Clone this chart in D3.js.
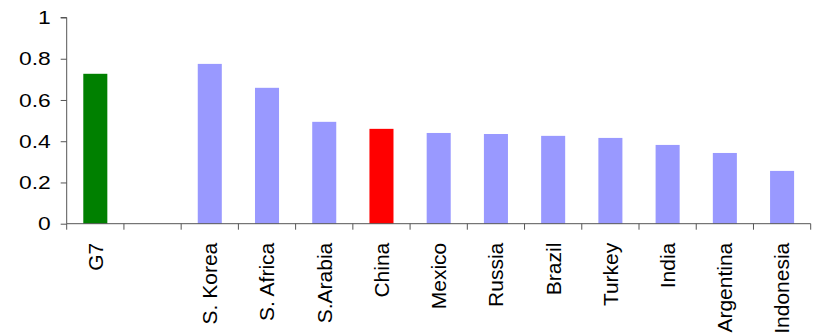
<!DOCTYPE html>
<html>
<head>
<meta charset="utf-8">
<script src="https://cdn.jsdelivr.net/npm/d3@7.9.0/dist/d3.min.js"></script>
<style>
  body { margin: 0; background: #fff; }
  svg { display: block; }
  text { font-family: "Liberation Sans", Arial, sans-serif; fill: #000; }
</style>
</head>
<body>
<svg id="chart" width="816" height="334"></svg>
<script>
// chart data
const categories = ['G7', '', 'S. Korea', 'S. Africa', 'S.Arabia', 'China', 'Mexico',
  'Russia', 'Brazil', 'Turkey', 'India', 'Argentina', 'Indonesia'];
const values = [0.727, null, 0.775, 0.659, 0.494, 0.460, 0.440,
  0.435, 0.426, 0.416, 0.382, 0.343, 0.256];
const yTicks = [0, 0.2, 0.4, 0.6, 0.8, 1];

// bar colours: G7 green, China red, the rest periwinkle
const colorFor = (name) => name === 'G7' ? '#008000' : name === 'China' ? '#ff0000' : '#9999ff';

const svg = d3.select('#chart');
const plotLeft = 66.7, plotRight = 810.7, plotTop = 17.5, plotBottom = 223.7;

const x = d3.scaleBand()
  .domain(categories.map((d, i) => i))
  .range([plotLeft, plotRight])
  .paddingInner(0)
  .paddingOuter(0);

const y = d3.scaleLinear().domain([0, 1]).range([plotBottom, plotTop]);

// bars
const barW = x.bandwidth() * 0.42;
svg.append('g')
  .selectAll('rect')
  .data(values.map((v, i) => ({ v, i, name: categories[i] })).filter(d => d.v != null))
  .enter()
  .append('rect')
  .attr('x', d => x(d.i) + (x.bandwidth() - barW) / 2)
  .attr('width', barW)
  .attr('y', d => y(d.v))
  .attr('height', d => y(0) - y(d.v))
  .attr('fill', d => colorFor(d.name));

// y axis
const yAxis = svg.append('g')
  .attr('transform', `translate(${plotLeft},0)`)
  .call(d3.axisLeft(y).tickValues(yTicks).tickFormat(d3.format('')).tickSize(6).tickPadding(10));
yAxis.select('.domain').attr('stroke', '#555').attr('d', `M-6,${plotTop}H0V${plotBottom}`);
yAxis.selectAll('.tick line').attr('stroke', '#555');
// the source labels look a bit wider than plain Arial, so stretch them sideways
yAxis.selectAll('.tick text')
  .style('font-size', '19px')
  .each(function () {
    const w = this.getComputedTextLength();
    d3.select(this).attr('textLength', w * 1.2).attr('lengthAdjust', 'spacingAndGlyphs');
  });

// x axis: ticks sit on the band edges
const edges = d3.range(categories.length + 1).map(i => plotLeft + i * x.step());
const xAxis = svg.append('g').attr('transform', `translate(0,${plotBottom})`);
xAxis.append('line')
  .attr('x1', plotLeft).attr('x2', plotRight)
  .attr('stroke', '#555');
xAxis.selectAll('line.tick')
  .data(edges)
  .enter()
  .append('line')
  .attr('class', 'tick')
  .attr('x1', d => d).attr('x2', d => d)
  .attr('y1', 0).attr('y2', 6)
  .attr('stroke', '#555');

// rotated category labels
xAxis.selectAll('text')
  .data(categories.map((c, i) => ({ c, i })))
  .enter()
  .append('text')
  .attr('transform', d => `translate(${x(d.i) + x.bandwidth() / 2},19) rotate(-90)`)
  .attr('dy', '0.35em')
  .attr('text-anchor', 'end')
  .style('font-size', '21px')
  .text(d => d.c);
</script>
</body>
</html>
